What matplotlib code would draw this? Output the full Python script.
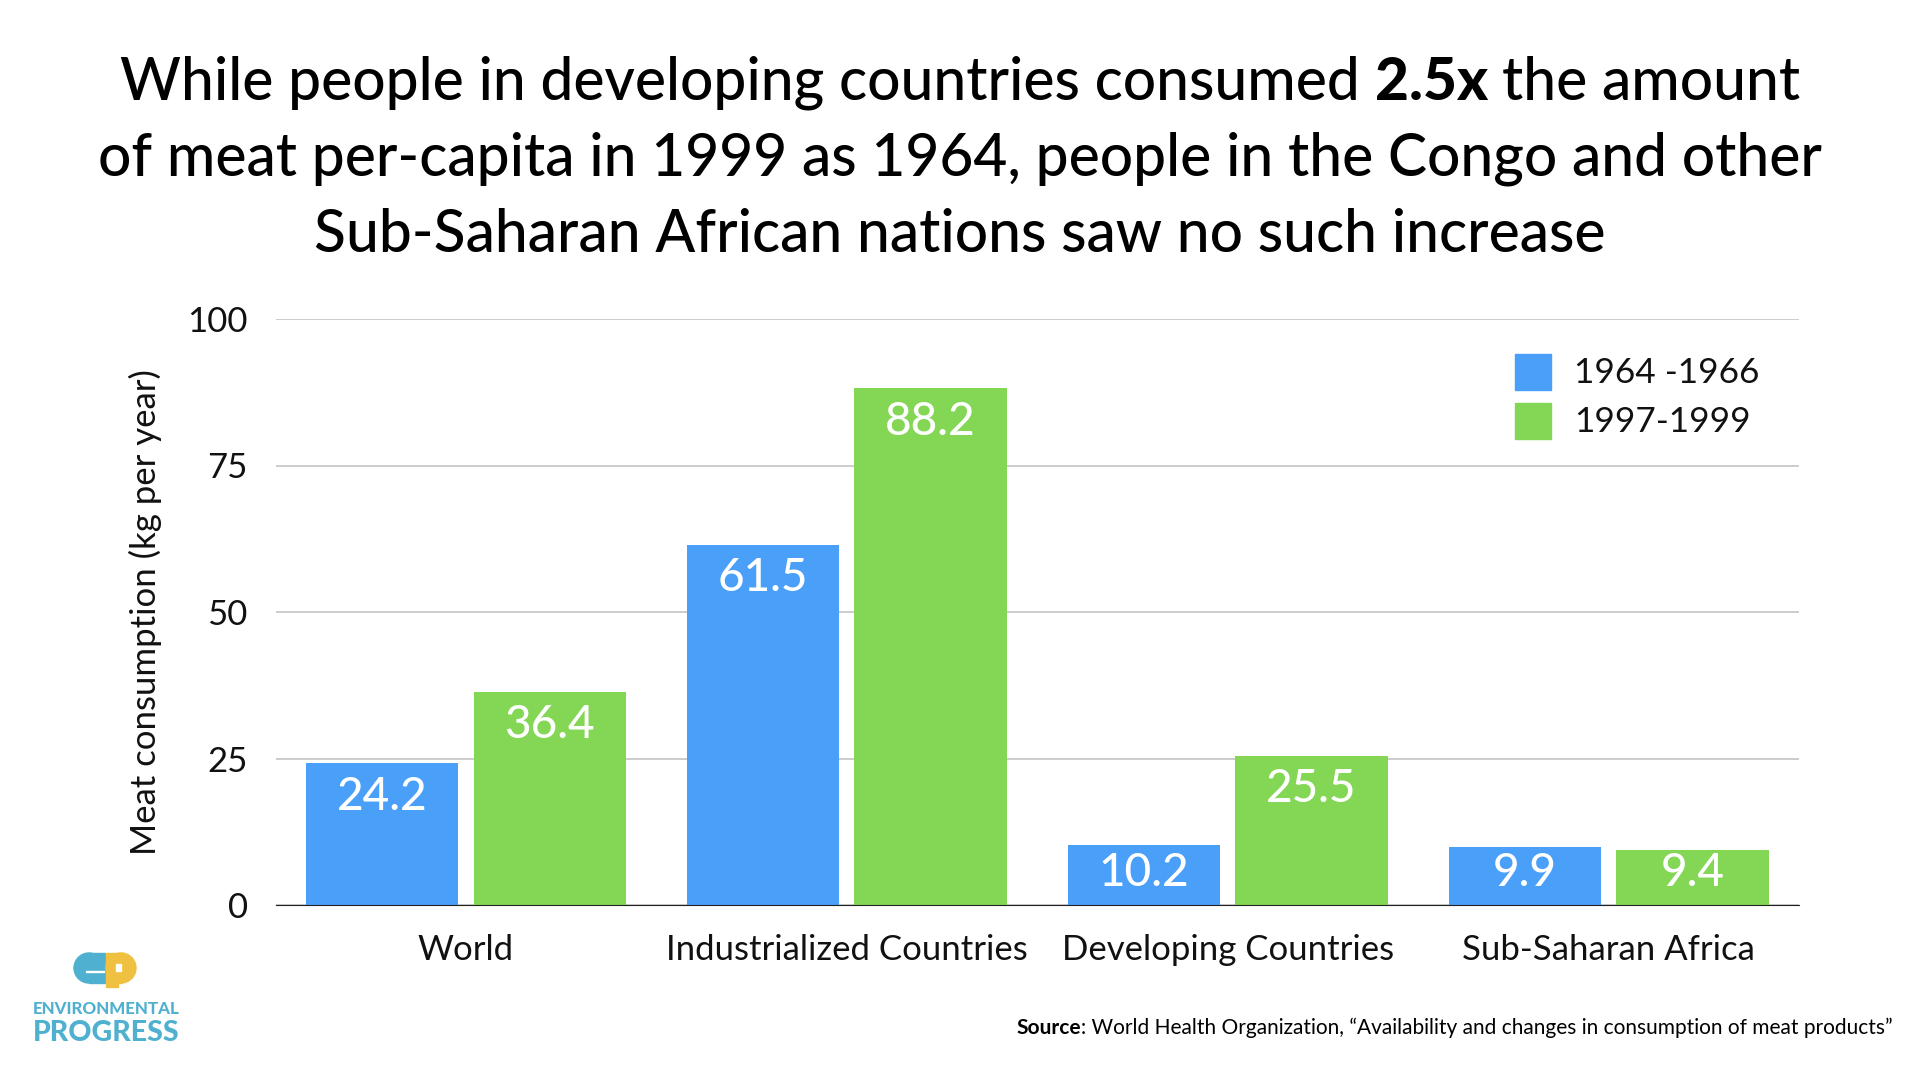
import matplotlib
matplotlib.use('Agg')
import matplotlib.pyplot as plt
import numpy as np
from matplotlib.patches import Rectangle, Ellipse

plt.rcParams['font.family'] = ['Lato', 'DejaVu Sans']

categories = ['World', 'Industrialized Countries', 'Developing Countries', 'Sub-Saharan Africa']
early = [24.2, 61.5, 10.2, 9.9]
late = [36.4, 88.2, 25.5, 9.4]
series_names = ['1964 -1966', '1997-1999']
yticks = [0, 25, 50, 75, 100]

W, H = 1920, 1080
BLUE = '#4a9ff9'
GREEN = '#83d755'
LOGO_BLUE = '#4fb1cf'
LOGO_YELLOW = '#f0c040'

fig = plt.figure(figsize=(W / 100, H / 100), dpi=100, facecolor='white')
ax = fig.add_axes([275.5 / W, 1 - 905 / H, (1799 - 275.5) / W, (905 - 319) / H])


def fx(px):
    return px / W


def fy(py):
    return 1 - py / H


x = np.arange(4)
bw = 0.4
b1 = ax.bar(x - 0.22, early, bw, color=BLUE, zorder=2)
b2 = ax.bar(x + 0.22, late, bw, color=GREEN, zorder=2)
ax.set_xlim(-0.5, 3.5)
ax.set_ylim(0, 100)
for bars, vals in ((b1, early), (b2, late)):
    for r, v in zip(bars, vals):
        # small bars keep their label clear of the baseline
        ax.text(r.get_x() + r.get_width() / 2, max(v - 5.7, 5.5), f'{v}', ha='center', va='center',
                color='white', fontsize=33, weight='medium', zorder=3)

ax.set_yticks(yticks)
ax.set_xticks(x)
ax.set_xticklabels(categories)
ax.tick_params(axis='both', length=0, labelsize=25, colors='#111111')
ax.tick_params(axis='x', pad=21)
ax.tick_params(axis='y', pad=20)
ax.grid(axis='y', color='#c4c4c4', lw=1.2, zorder=0)
ax.set_axisbelow(True)
for s in ['top', 'right', 'left']:
    ax.spines[s].set_visible(False)
ax.spines['bottom'].set_color('#222222')
ax.set_ylabel('Meat consumption (kg per year)', fontsize=25, labelpad=18, color='#111111')

# legend
for y0, c, n in zip((354, 403), (BLUE, GREEN), series_names):
    fig.add_artist(Rectangle((fx(1515), fy(y0 + 36)), 36 / W, 36 / H, color=c, transform=fig.transFigure))
    fig.text(fx(1574), fy(y0 + 19), n, fontsize=25.3, va='center', color='#111111')


def mixed_line(pieces, py, fontsize, center=None, right=None):
    # pieces are (text, weight), laid out one after the other on the same baseline
    r = fig.canvas.get_renderer()
    arts = [fig.text(0, fy(py), s, fontsize=fontsize, weight=w, va='baseline', color='black') for s, w in pieces]
    widths = [a.get_window_extent(r).width for a in arts]
    total = sum(widths)
    left = center - total / 2 if center is not None else right - total
    for a, wd in zip(arts, widths):
        a.set_x(fx(left))
        left += wd


# title
fs = 42.2
mixed_line([('While people in developing countries consumed ', 'medium'), ('2.5x ', 'black'),
            ('the amount', 'medium')], 99.5, fs, center=960)
mixed_line([('of meat per-capita in 1999 as 1964, people in the Congo and other', 'medium')], 175.5, fs, center=960)
mixed_line([('Sub-Saharan African nations saw no such increase', 'medium')], 251.5, fs, center=960)

# source
mixed_line([('Source', 'bold'), (': World Health Organization, “Availability and changes in consumption of meat products”', 'normal')],
           1034, 15, right=1893)

# logo
fig.add_artist(Ellipse((fx(89), fy(968)), 30 / W, 30 / H, color=LOGO_BLUE, transform=fig.transFigure))
fig.add_artist(Rectangle((fx(89), fy(983)), 16 / W, 30 / H, color=LOGO_BLUE, transform=fig.transFigure))
fig.add_artist(Ellipse((fx(121), fy(968)), 30 / W, 30 / H, color=LOGO_YELLOW, transform=fig.transFigure))
fig.add_artist(Rectangle((fx(105.5), fy(983)), 16 / W, 30 / H, color=LOGO_YELLOW, transform=fig.transFigure))
fig.add_artist(Rectangle((fx(105.5), fy(987)), 12 / W, 6 / H, color=LOGO_YELLOW, transform=fig.transFigure))
fig.add_artist(Rectangle((fx(86), fy(972)), 18 / W, 1.5 / H, color='white', transform=fig.transFigure))
fig.add_artist(Rectangle((fx(116), fy(971)), 5 / W, 7 / H, color='white', transform=fig.transFigure))
fig.text(fx(106.5), fy(1009), 'ENVIRONMENTAL', ha='center', va='center', fontsize=12.2, color=LOGO_BLUE, weight='black')
fig.text(fx(106.5), fy(1033), 'PROGRESS', ha='center', va='center', fontsize=20.5, color=LOGO_BLUE, weight='black')

fig.savefig('out.png', dpi=100)
